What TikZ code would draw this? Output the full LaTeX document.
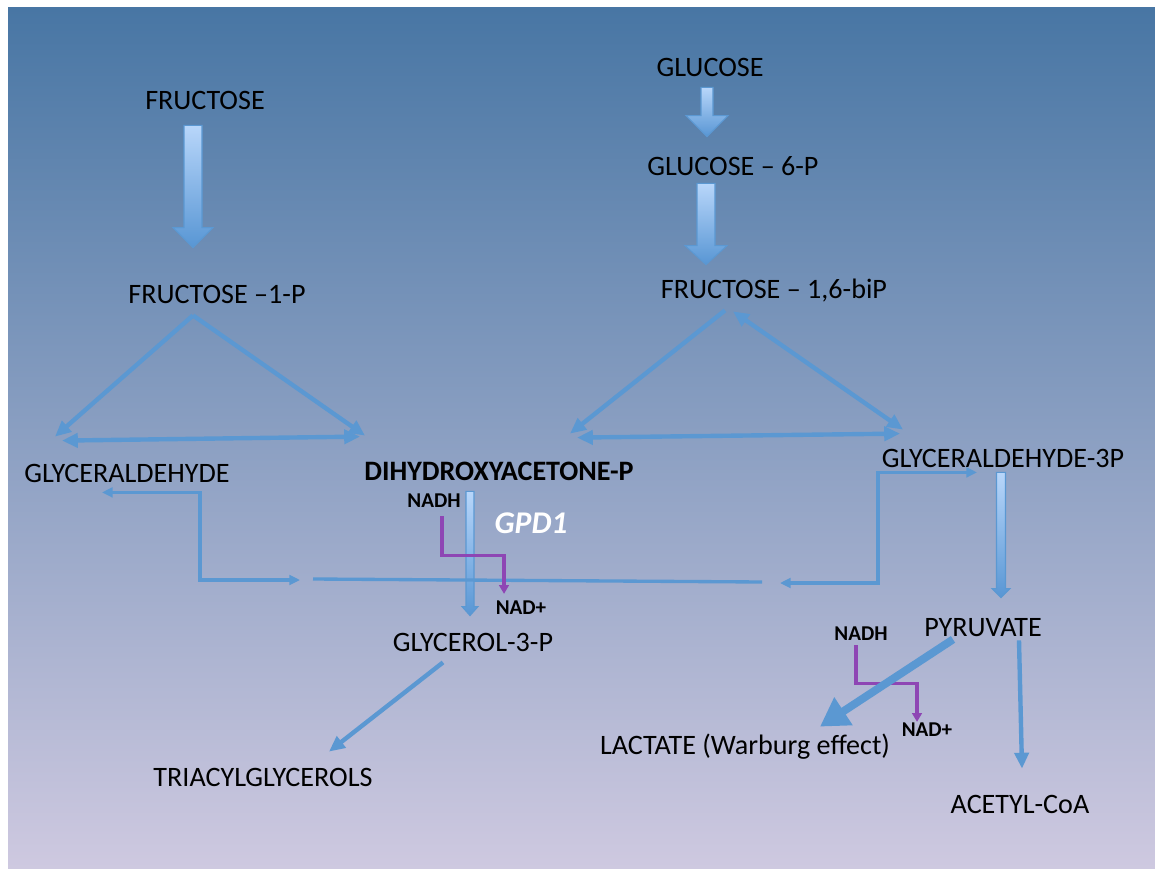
\documentclass[tikz,border=0pt]{standalone}
\usepackage{fontspec}
\setmainfont{Carlito}
\usepackage{tikz}
\usetikzlibrary{arrows.meta, calc}
\definecolor{bgtop}{RGB}{72,118,164}
\definecolor{bgbot}{RGB}{208,202,225}
\definecolor{pathblue}{RGB}{91,152,210}
\definecolor{arrowlight}{RGB}{184,214,250}
\definecolor{arrowdark}{RGB}{88,150,212}
\definecolor{nadpurple}{RGB}{142,70,180}
\tikzstyle{metab}  = [inner sep=0pt, text height=10.3pt, text depth=0pt, font=\fontsize{16}{19}\selectfont]
\tikzstyle{cofac}  = [inner sep=0pt, text height=7.7pt, text depth=0pt, font=\fontsize{12}{14}\selectfont\bfseries]
\tikzstyle{enzyme} = [inner sep=0pt, text=white, font=\fontsize{18}{21}\selectfont\bfseries\itshape]
\tikzstyle{flow}   = [line width=2.5pt, pathblue, -{Triangle[length=9pt,width=8pt]}]
\tikzstyle{twoway} = [line width=2.5pt, pathblue, {Triangle[length=9pt,width=8pt]}-{Triangle[length=9pt,width=8pt]}]
\tikzstyle{elbow}  = [line width=1.9pt, pathblue, {Triangle[length=6pt,width=5.5pt]}-{Triangle[length=6pt,width=5.5pt]}]
\tikzstyle{redox}  = [line width=1.8pt, nadpurple, -{Triangle[length=5pt,width=5.5pt]}]
\tikzstyle{bigflow} = [line width=4.5pt, pathblue, -{Triangle[length=16pt,width=18pt]}]
\tikzstyle{blockarrow} = [top color=arrowlight, bottom color=arrowdark, draw=pathblue, line width=0.6pt]
% tail, tip, half shaft width, half head width, head length
\newcommand{\blockarrow}[5]{%
  \path (#1) coordinate (ba-t) (#2) coordinate (ba-h);
  \shadedraw[blockarrow] ($(ba-t)+(-#3,0)$) -- ($(ba-t)+(#3,0)$) -- ($(ba-h)+(#3,-#5)$)
    -- ($(ba-h)+(#4,-#5)$) -- (ba-h) -- ($(ba-h)+(-#4,-#5)$) -- ($(ba-h)+(-#3,-#5)$) -- cycle;
}

\begin{document}
\begin{tikzpicture}[x=0.02cm, y=-0.02cm]
    \useasboundingbox (0,0) rectangle (1155,868);
    \shade[top color=bgtop, bottom color=bgbot] (8,8) rectangle (1170,880);

    \node (fru)   at ( 205, 100) [metab]  {FRUCTOSE};
    \node (glc)   at ( 710,  67) [metab]  {GLUCOSE};
    \node (g6p)   at ( 733, 166) [metab]  {GLUCOSE – 6-P};
    \node (fr1p)  at ( 217, 294) [metab]  {FRUCTOSE –1-P};
    \node (f16bp) at ( 774, 289) [metab]  {FRUCTOSE – 1,6-biP};
    \node (gald)  at ( 127, 473) [metab]  {GLYCERALDEHYDE};
    \node (dhap)  at ( 499, 471) [metab, font=\fontsize{16}{19}\selectfont\bfseries] {DIHYDROXYACETONE-P};
    \node (g3p)   at (1003, 458) [metab]  {GLYCERALDEHYDE-3P};
    \node (nadh1) at ( 434, 501) [cofac]  {NADH};
    \node (gpd)   at ( 531, 523) [enzyme] {GPD1};
    \node (nad1)  at ( 521, 608) [cofac]  {NAD+};
    \node (gly3p) at ( 473, 642) [metab]  {GLYCEROL-3-P};
    \node (tag)   at ( 263, 777) [metab]  {TRIACYLGLYCEROLS};
    \node (pyr)   at ( 983, 627) [metab]  {PYRUVATE};
    \node (nadh2) at ( 861, 634) [cofac]  {NADH};
    \node (nad2)  at ( 927, 730) [cofac]  {NAD+};
    \node (lac)   at ( 745, 745) [metab]  {LACTATE (Warburg effect)};
    \node (acoa)  at (1020, 804) [metab]  {ACETYL-CoA};
    \coordinate (mem-l) at (313, 579);
    \coordinate (mem-r) at (762, 582);

    \blockarrow{$(fru.south)+(-12,16)$}{$(fr1p.north)+(-24,-37)$}{9}{20}{20}
    \blockarrow{$(glc.south)+(-3,11)$}{$(g6p.north)+(-26,-20)$}{6}{21}{21}
    \blockarrow{$(g6p.south)+(-27,8)$}{$(f16bp.north)+(-68,-15)$}{9}{21}{19}
    \blockarrow{$(dhap.south)+(-29,11)$}{$(gly3p.north)+(-3,-17)$}{4}{8}{9}
    \blockarrow{$(g3p.south)+(-2,5)$}{$(pyr.north)+(18,-20)$}{4.5}{9}{9}

    \draw [flow]   ($(fr1p.south)+(-24,12)$) -- ($(gald.north)+(-72,-27)$);
    \draw [flow]   ($(fr1p.south)+(-24,12)$) -- ($(dhap.north)+(-134,-26)$);
    \draw [twoway] ($(gald.north)+(-65,-23)$) -- ($(dhap.north)+(-139,-25)$);
    \draw [flow]   ($(f16bp.south)+(-49,12)$) -- ($(dhap.north)+(71,-28)$);
    \draw [twoway] ($(f16bp.south)+(-41,13)$) -- ($(g3p.north)+(-100,-19)$);
    \draw [twoway] ($(dhap.north)+(78,-24)$) -- ($(g3p.north)+(-103,-15)$);

    \draw [elbow] ($(gald.south)+(-25,10)$) -- ++(98,0) |- ($(mem-l)+(-13,1)$);
    \draw [line width=1.9pt, pathblue] (mem-l) -- (mem-r);
    \draw [elbow] ($(mem-r)+(18,1)$) -- ++(98,0) |- ($(g3p.south)+(-26,5)$);

    \draw [redox] ($(nadh1.south)+(8,8)$) -- ++(0,39) -| ($(nad1.north)+(-17,-7)$);
    \draw [redox] ($(nadh2.south)+(-5,4)$) -- ++(0,38) -| ($(nad2.north)+(-10,-1)$);

    \draw [bigflow] ($(pyr.south)+(-30,3)$) -- ($(lac.north)+(75,-9)$);
    \draw [flow]    ($(gly3p.south)+(-30,11)$) -- ($(tag.north)+(66,-16)$);
    \draw [flow]    ($(pyr.south)+(36,4)$) -- ($(acoa.north)+(2,-26)$);
\end{tikzpicture}
\end{document}
